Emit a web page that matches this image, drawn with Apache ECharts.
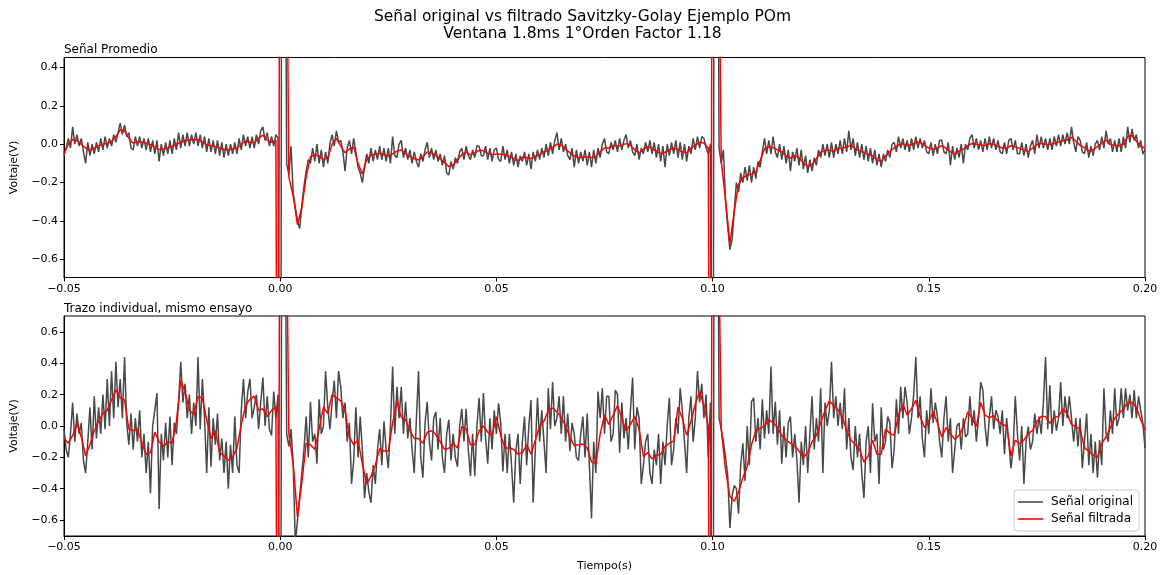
<!DOCTYPE html>
<html>
<head>
<meta charset="utf-8">
<script src="https://cdn.jsdelivr.net/npm/echarts@6/dist/echarts.min.js"></script>
<style>
  html, body { margin: 0; padding: 0; background: #fff; }
  #chart { width: 1165px; height: 575px; }
</style>
</head>
<body>
<div id="chart"></div>
<script>
// Time base (s): raw traces sampled every 0.5 ms, filtered traces every 1 ms, from -0.05 s
const T_START = -0.05;

// Averaged signal, raw samples (V), 0.5 ms apart
const promedioOriginal = [
  -0.06,-0.02, 0.03,-0.02, 0.09,0.0, 0.05,-0.01, 0.03,-0.04,
  -0.10,0.01, -0.06,0.0, -0.05,0.01, -0.04,0.03, -0.03,0.04,
  -0.02,0.03, -0.01,0.05, 0.01,0.06, 0.11,0.05, 0.10,0.04,
  0.06,-0.02, -0.03,0.04, -0.01,0.04, -0.02,0.03, -0.03,0.03,
  -0.04,0.02, -0.05,0.02, -0.09,0.0, -0.06,0.01, -0.05,0.02,
  -0.05,0.03, -0.03,0.06, -0.02,0.05, -0.01,0.06, -0.01,0.05,
  0.0,0.06, -0.01,0.05, -0.02,0.04, -0.04,0.03, -0.04,0.02,
  -0.05,0.02, -0.06,0.01, -0.07,0.0, -0.06,0.0, -0.05,0.01,
  -0.05,0.03, -0.03,0.05, -0.01,0.04, -0.02,0.04, -0.02,0.05,
  0.0,0.07, 0.09,0.02, 0.06,-0.01, 0.04,-0.01, 0.05,0.03,
  -4.0,4.0, 2.0,-0.10, -0.16,-0.01, -0.25,-0.33, -0.40,-0.44,
  -0.32,-0.22, -0.14,-0.08, -0.10,-0.02, -0.09,0.0, -0.10,-0.03,
  -0.12,-0.04, -0.10,0.0, 0.05,-0.01, 0.07,0.01,
  0.02,-0.04, -0.14,-0.02, 0.02,-0.05, 0.03,-0.04, -0.12,-0.15,
  -0.20,-0.12, -0.05,-0.10, -0.02,-0.09, -0.03,-0.08, -0.01,-0.08,
  -0.02,-0.09, -0.02,-0.10, 0.04,-0.06, -0.07,0.0, 0.02,-0.07,
  -0.02,-0.08, -0.03,-0.10, -0.04,-0.09, -0.12,-0.05, -0.09,-0.03,
  0.01,-0.07, -0.02,-0.08, -0.03,-0.09, -0.05,-0.11, -0.06,-0.15,
  -0.16,-0.09, -0.13,-0.07, -0.10,-0.04, -0.02,-0.08, -0.01,-0.06,
  -0.08,-0.03, -0.07,-0.01, -0.01,-0.06, -0.06,-0.01, -0.08,-0.02,
  -0.09,-0.03, -0.02,-0.08, -0.09,-0.01, -0.08,-0.03, -0.10,-0.04,
  -0.11,-0.05, -0.12,-0.06, -0.09,-0.04, -0.11,-0.05, -0.13,-0.04,
  -0.09,-0.03, -0.08,-0.02, -0.07,0.0, -0.06,0.01, -0.05,0.02,
  0.06,-0.03, 0.03,-0.04, 0.0,-0.06, -0.08,-0.02, -0.12,-0.03,
  -0.10,-0.04, -0.09,-0.03, -0.11,-0.04, -0.12,-0.03, -0.10,-0.02,
  -0.07,0.0, 0.03,-0.04,
  -0.05,0.01, -0.03,0.02, -0.04,0.03, -0.03,0.02, 0.05,-0.02,
  0.02,-0.04, -0.06,0.0, -0.08,-0.02, -0.05,0.01, -0.04,0.02,
  -0.05,0.01, -0.07,0.0, -0.09,-0.01, -0.12,0.0, -0.06,0.01,
  -0.05,0.02, -0.07,0.01, -0.08,0.0, -0.09,-0.01, -0.05,0.03,
  -0.03,0.04, -0.02,0.04, 0.03,-0.02, -0.05,0.0, -4.0,4.0,
  2.5,-0.02, -0.10,-0.03, -0.30,-0.43, -0.55,-0.50, -0.35,-0.20,
  -0.25,-0.15, -0.20,-0.12, -0.19,-0.11, -0.20,-0.12, -0.18,-0.09,
  -0.12,-0.04, 0.03,-0.05, 0.02,-0.05, 0.04,-0.04, -0.07,0.0,
  -0.08,-0.01, -0.10,-0.03, -0.14,-0.04, -0.09,-0.02, -0.11,-0.03,
  -0.13,-0.06, -0.15,-0.08, -0.14,-0.07, -0.11,-0.03, -0.07,0.0,
  -0.06,0.0, -0.07,0.01, -0.07,0.0, -0.05,0.02, -0.05,0.03,
  -0.04,0.07, -0.03,0.03, -0.06,0.01, -0.07,0.0, -0.08,-0.01,
  -0.09,-0.02, -0.10,-0.03, -0.11,-0.05,
  -0.12,-0.05, -0.09,-0.03, -0.07,0.0, 0.01,-0.04, 0.04,-0.02,
  0.03,-0.03, 0.02,-0.04, 0.03,-0.03, 0.04,-0.02, 0.03,-0.02,
  0.02,-0.04, -0.05,0.01, -0.06,0.0, -0.05,0.02, 0.02,-0.04,
  -0.05,0.01, -0.11,-0.01, -0.08,-0.02, -0.07,0.0, -0.10,0.0,
  -0.03,0.03, 0.05,-0.02, 0.03,-0.03, 0.02,-0.04, 0.03,-0.03,
  0.04,-0.02, 0.03,-0.03, 0.02,-0.04, -0.05,0.01, -0.05,0.02,
  0.03,-0.03, 0.02,-0.05, -0.05,0.01, -0.06,0.0, -0.07,-0.01,
  0.02,-0.05, 0.05,-0.02, 0.04,-0.02, 0.03,-0.03, 0.03,-0.03,
  0.04,-0.01, 0.05,-0.01, 0.05,0.0, 0.06,0.0, 0.09,0.01,
  -0.04,0.04, 0.02,-0.04, -0.05,0.01, -0.07,-0.01, -0.06,0.0,
  0.02,-0.03, 0.04,-0.02, 0.07,0.0, 0.03,-0.04, 0.02,-0.04,
  0.03,-0.04, 0.04,-0.02, 0.09,0.01, 0.08,0.02, 0.05,-0.02,
  0.02,-0.05, -0.03
];

// Averaged signal after Savitzky-Golay filtering (V), 1 ms apart
const promedioFiltrada = [
  -0.05,0.0,0.025,0.02,0.0,-0.02,-0.033,-0.022,-0.008,0.0,
  0.005,0.015,0.04,0.075,0.07,0.03,0.005,0.012,0.012,0.005,
  -0.003,-0.015,-0.028,-0.025,-0.02,-0.012,0.0,0.01,0.018,0.023,
  0.025,0.023,0.012,-0.003,-0.008,-0.012,-0.02,-0.028,-0.03,-0.024,
  -0.02,0.0,0.017,0.01,0.008,0.03,0.048,0.02,0.01,0.02,
  3,3,-0.17,-0.27,-0.42,-0.33,-0.17,-0.065,-0.056,-0.062,
  -0.08,-0.07,0.0,0.03,
  -0.01,-0.045,-0.025,-0.015,-0.10,-0.155,-0.08,-0.056,-0.052,-0.047,
  -0.054,-0.062,-0.05,-0.036,-0.03,-0.05,-0.065,-0.075,-0.082,-0.066,
  -0.04,-0.047,-0.06,-0.077,-0.095,-0.117,-0.11,-0.08,-0.055,-0.04,
  -0.056,-0.044,-0.032,-0.033,-0.048,-0.055,-0.053,-0.052,-0.055,-0.064,
  -0.077,-0.087,-0.068,-0.07,-0.075,-0.064,-0.053,-0.04,-0.03,-0.016,
  0.0,-0.005,-0.025,-0.045,-0.062,-0.071,-0.068,-0.065,-0.07,-0.065,
  -0.04,-0.02,
  -0.02,-0.007,-0.01,-0.005,0.003,-0.005,-0.03,-0.047,-0.026,-0.013,
  -0.022,-0.036,-0.05,-0.042,-0.03,-0.02,-0.028,-0.038,-0.046,-0.02,
  -0.005,0.01,0.006,-0.02,3,3,-0.09,-0.29,-0.52,-0.35,
  -0.21,-0.175,-0.162,-0.155,-0.145,-0.085,-0.025,-0.012,-0.018,-0.03,
  -0.04,-0.062,-0.072,-0.06,-0.07,-0.097,-0.117,-0.107,-0.075,-0.042,
  -0.032,-0.031,-0.037,-0.021,-0.02,-0.015,-0.005,-0.025,-0.035,-0.043,
  -0.052,-0.06,-0.082,
  -0.088,-0.062,-0.038,-0.02,-0.004,0.002,-0.007,-0.003,0.008,0.01,
  -0.006,-0.02,-0.027,-0.02,-0.007,-0.022,-0.04,-0.052,-0.036,-0.025,
  -0.008,0.004,0.0,-0.004,-0.007,0.002,0.0,-0.012,-0.02,-0.02,
  -0.008,-0.014,-0.022,-0.031,-0.038,-0.02,-0.003,0.005,0.0,-0.001,
  0.004,0.012,0.018,0.022,0.036,0.015,-0.006,-0.018,-0.037,-0.03,
  -0.012,0.005,0.022,-0.003,-0.006,-0.008,0.0,0.04,0.045,0.015,
  -0.012,-0.02
];

// Single trial, raw samples (V), 0.5 ms apart
const individualOriginal = [
  -0.02,-0.15,-0.20,-0.05,0.15,-0.10,0.08,-0.05,0.02,-0.22,
  -0.30,-0.10,0.12,-0.15,0.19,-0.08,0.12,-0.05,0.20,-0.02,
  0.30,0.0,0.35,0.05,0.41,0.12,0.30,0.05,0.44,0.02,
  -0.12,0.08,-0.15,0.05,-0.10,0.10,-0.20,-0.05,-0.30,-0.10,
  -0.43,0.0,0.10,0.21,-0.53,-0.05,-0.22,0.02,-0.20,0.06,
  -0.25,0.02,-0.05,0.15,0.41,0.15,0.27,0.05,0.20,-0.05,
  0.15,0.0,0.44,-0.02,0.30,0.05,-0.30,0.12,-0.26,0.05,
  -0.12,0.08,-0.22,-0.08,-0.30,-0.10,-0.40,-0.12,-0.30,0.06,
  -0.25,-0.30,0.10,0.30,0.05,0.22,0.30,0.05,0.12,0.20,
  -0.02,0.15,0.31,0.0,0.19,-0.02,-0.06,0.22,0.05,0.20,
  -4.0,4.0,2.0,-0.05,-0.13,-0.02,-0.24,-0.75,-0.60,-0.45,
  -0.30,-0.15,0.06,-0.20,0.155,-0.10,-0.05,-0.24,0.17,-0.05,
  0.0,0.35,0.12,-0.02,0.15,0.29,0.05,0.35,
  0.25,0.05,0.15,-0.10,0.02,-0.37,-0.22,0.12,-0.20,0.06,
  -0.15,-0.46,-0.30,-0.42,-0.49,-0.25,-0.37,-0.15,-0.02,-0.25,
  0.03,-0.15,-0.27,0.0,0.38,-0.05,0.25,0.05,0.25,-0.05,
  0.155,-0.08,0.05,-0.15,-0.30,0.05,0.35,-0.20,-0.33,0.02,
  0.155,-0.10,-0.22,0.05,0.09,-0.15,0.05,-0.20,-0.30,-0.05,
  0.04,-0.22,-0.05,-0.20,-0.26,0.0,0.11,-0.10,0.11,-0.15,
  -0.32,-0.05,-0.32,0.0,0.18,-0.10,0.21,-0.08,-0.24,0.05,
  -0.15,0.10,-0.05,0.145,0.02,-0.29,-0.05,-0.30,-0.05,-0.25,
  -0.49,-0.16,-0.05,-0.37,-0.10,0.06,-0.25,0.0,0.166,-0.49,
  -0.15,0.18,-0.10,0.10,-0.10,-0.30,0.24,-0.02,0.28,0.0,
  0.05,0.19,-0.05,0.19,-0.10,0.08,-0.16,0.02,-0.05,-0.20,
  -0.22,-0.05,0.06,-0.20,0.08,-0.25,-0.59,-0.10,-0.30,0.22,
  0.05,0.24,-0.05,0.19,
  0.19,-0.10,-0.05,0.23,0.20,-0.17,0.15,-0.08,0.05,-0.15,
  0.10,0.31,-0.15,0.12,0.05,-0.37,-0.25,-0.10,-0.05,-0.30,
  -0.37,-0.15,-0.25,-0.05,-0.37,-0.10,-0.25,0.0,0.18,-0.25,
  -0.15,0.05,-0.05,0.24,0.10,-0.10,-0.30,0.05,0.19,-0.10,
  0.05,0.35,0.15,0.27,0.05,0.20,-0.20,0.15,
  -4.0,4.0,2.5,0.05,-0.02,-0.10,-0.20,-0.32,-0.65,-0.45,
  -0.38,-0.40,-0.56,-0.25,-0.11,-0.35,0.0,-0.25,0.155,0.18,
  -0.10,0.05,-0.15,0.17,-0.08,0.10,-0.05,0.38,-0.05,0.155,
  -0.12,0.10,-0.24,0.0,-0.20,0.02,0.06,-0.20,-0.05,-0.22,
  -0.49,-0.10,-0.25,0.0,-0.30,-0.05,0.19,-0.15,0.05,-0.10,
  0.24,-0.30,0.15,0.0,0.10,0.41,0.05,0.19,0.0,0.15,
  -0.02,0.24,-0.15,0.05,-0.20,-0.28,0.0,-0.20,-0.05,-0.30,
  -0.46,-0.10,0.0,-0.30,0.145,-0.10,-0.05,-0.37,
  0.12,-0.15,-0.10,0.06,0.02,-0.27,-0.15,0.17,-0.05,0.25,
  0.05,0.25,0.15,-0.05,0.05,0.20,0.44,0.05,0.19,-0.08,
  -0.20,0.10,-0.05,0.24,0.02,0.15,0.06,-0.10,-0.20,0.05,
  0.19,-0.10,0.05,-0.30,-0.15,0.0,0.02,-0.15,0.05,-0.07,
  -0.05,0.19,0.0,0.10,-0.10,0.05,0.28,0.23,0.0,-0.13,
  0.05,0.19,-0.02,0.10,0.06,-0.05,0.10,-0.18,0.05,-0.10,
  -0.27,-0.15,0.19,-0.05,-0.22,0.0,-0.37,-0.10,-0.004,-0.15,
  -0.10,0.08,-0.05,0.06,-0.05,0.15,0.44,-0.02,0.26,-0.05,
  0.10,-0.03,0.05,0.28,0.0,0.19,0.05,0.19,0.05,-0.10,
  0.05,-0.13,0.05,-0.27,-0.10,0.08,-0.25,-0.05,-0.30,-0.10,
  -0.33,-0.09,-0.25,0.24,-0.05,-0.10,0.10,-0.05,0.24,0.0,
  0.05,0.24,0.05,0.24,0.10,0.20,0.05,0.23,0.05,0.19,
  0.10,0.02,-0.14
];

// Single trial after Savitzky-Golay filtering (V), 1 ms apart
const individualFiltrada = [
  -0.08,-0.11,-0.06,0.017,-0.07,-0.19,-0.12,-0.03,0.03,0.08,
  0.10,0.166,0.23,0.18,0.166,-0.02,-0.03,-0.02,-0.11,-0.18,
  -0.17,-0.04,-0.10,-0.13,-0.10,-0.11,0.03,0.29,0.22,0.10,
  0.075,0.187,0.18,0.038,-0.08,-0.03,-0.17,-0.19,-0.22,-0.20,
  -0.14,0.01,0.13,0.17,0.19,0.10,0.11,0.06,0.10,0.12,
  3,3,-0.05,-0.24,-0.58,-0.36,-0.11,-0.12,-0.15,-0.02,
  0.12,0.08,0.2,0.18,
  0.16,0.10,-0.07,-0.12,-0.09,-0.24,-0.37,-0.32,-0.25,-0.145,
  -0.16,-0.16,0.02,0.16,0.055,0.04,-0.03,-0.08,-0.08,-0.11,
  -0.04,-0.03,-0.055,-0.10,-0.15,-0.142,-0.11,-0.14,-0.004,-0.02,
  -0.12,-0.12,-0.03,0.0,-0.04,-0.06,0.06,-0.06,-0.14,-0.14,
  -0.15,-0.18,-0.17,-0.12,-0.18,-0.09,0.0,0.03,0.10,0.115,
  0.09,0.055,0.0,-0.07,-0.125,-0.12,-0.115,-0.14,-0.23,-0.24,
  -0.05,0.07,
  0.01,0.07,0.13,0.05,-0.03,0.01,0.06,-0.02,-0.195,-0.17,
  -0.21,-0.185,-0.18,-0.13,-0.11,-0.095,0.12,0.05,-0.06,0.03,
  0.14,0.22,0.13,0.0,3,3,-0.02,-0.28,-0.45,-0.48,
  -0.42,-0.33,-0.26,-0.12,-0.03,-0.015,0.0,0.04,0.02,-0.01,
  -0.06,-0.09,-0.11,-0.13,-0.16,-0.2,-0.17,-0.1,-0.06,0.02,
  0.1,0.16,0.13,0.105,0.06,-0.03,-0.09,-0.12,-0.15,-0.23,
  -0.19,-0.09,-0.18,
  -0.18,-0.02,-0.047,-0.06,0.07,0.14,0.07,0.11,0.165,0.06,
  -0.01,0.03,0.09,0.02,-0.07,-0.01,-0.05,-0.085,-0.06,-0.004,
  0.09,0.05,-0.004,0.15,0.07,0.053,0.065,0.03,0.01,0.0,
  -0.19,-0.09,-0.115,-0.09,-0.047,-0.03,0.03,0.06,0.06,0.017,
  0.055,0.06,0.11,0.08,0.01,-0.006,-0.02,-0.14,-0.16,-0.185,
  -0.2,-0.11,-0.07,-0.01,0.05,0.08,0.11,0.148,0.15,0.12,
  0.04,-0.025
];

// Stimulus artefact samples of the filtered traces between the 1 ms points [t (s), V]
const artefactoPromedio = [[-0.0005, -3], [0.0015, 1.2], [0.0995, -3], [0.1015, 1.0]];
const artefactoIndividual = [[-0.0005, -3], [0.0015, 1.2], [0.0995, -3], [0.1015, 1.0]];

// Axis ticks
const yTicksPromedio = [-0.6, -0.4, -0.2, 0.0, 0.2, 0.4];
const yTicksIndividual = [-0.6, -0.4, -0.2, 0.0, 0.2, 0.4, 0.6];

// Build [time, value] pairs
function rawPairs(values) {
  // 0.5 ms step, computed in tenths of a millisecond to avoid drift
  return values.map((v, i) => [(T_START * 10000 + i * 5) / 10000, v]);
}
function filtPairs(values, extra) {
  const pts = values.map((v, i) => [(T_START * 1000 + i) / 1000, v]);
  return pts.concat(extra).sort((a, b) => a[0] - b[0]);
}

const FONT = 'DejaVu Sans';
const minus = s => String(s).replace('-', '\u2212');
const GRAY = '#484848';
const RED = '#ff0000';

const chart = echarts.init(document.getElementById('chart'), null, { renderer: 'canvas' });

function xAxisDef(gridIndex, withName) {
  return {
    type: 'value', gridIndex, min: -0.05, max: 0.2, interval: 0.05,
    name: withName ? 'Tiempo(s)' : '', nameLocation: 'middle', nameGap: 25,
    nameTextStyle: { fontFamily: FONT, fontSize: 11, color: '#000' },
    axisLine: { show: true, onZero: false, lineStyle: { color: '#000', width: 1 } },
    axisTick: { show: true, length: 4, lineStyle: { color: '#000' } },
    axisLabel: { fontFamily: FONT, fontSize: 11, color: '#000', margin: 6,
      formatter: v => minus(v.toFixed(2)) },
    splitLine: { show: false }
  };
}
function yAxisDef(gridIndex, min, max, ticks) {
  return {
    type: 'value', gridIndex, min, max,
    name: 'Voltaje(V)', nameLocation: 'middle', nameGap: 44, nameRotate: 90,
    nameTextStyle: { fontFamily: FONT, fontSize: 11, color: '#000' },
    axisLine: { show: true, onZero: false, lineStyle: { color: '#000', width: 1 } },
    axisTick: { show: true, length: 4, customValues: ticks, lineStyle: { color: '#000' } },
    axisLabel: { fontFamily: FONT, fontSize: 11, color: '#000', margin: 6,
      customValues: ticks, formatter: v => minus(v.toFixed(1)) },
    splitLine: { show: false }
  };
}
function lineSeries(name, color, axisIndex, data, z) {
  return {
    name, type: 'line', xAxisIndex: axisIndex, yAxisIndex: axisIndex,
    data, symbol: 'none', clip: true, z,
    lineStyle: { color, width: 1.5 }, itemStyle: { color },
    emphasis: { disabled: true }
  };
}

chart.setOption({
  animation: false,
  backgroundColor: '#fff',
  textStyle: { fontFamily: FONT },
  title: [
    { text: 'Señal original vs filtrado Savitzky-Golay Ejemplo POm\nVentana 1.8ms 1°Orden Factor 1.18',
      left: 'center', top: 4,
      textStyle: { fontFamily: FONT, fontSize: 15.5, fontWeight: 'normal', color: '#000', lineHeight: 16.5 } },
    { text: 'Señal Promedio', left: 64, top: 44, padding: 0,
      textStyle: { fontFamily: FONT, fontSize: 12, fontWeight: 'normal', color: '#000' } },
    { text: 'Trazo individual, mismo ensayo', left: 64, top: 303, padding: 0,
      textStyle: { fontFamily: FONT, fontSize: 12, fontWeight: 'normal', color: '#000' } }
  ],
  legend: {
    orient: 'vertical', right: 26, top: 490,
    data: ['Señal original', 'Señal filtrada'],
    icon: 'rect', itemWidth: 25, itemHeight: 1.6, itemGap: 5,
    padding: [6, 6, 6, 4],
    borderColor: '#cccccc', borderWidth: 1, borderRadius: 3,
    backgroundColor: 'rgba(255,255,255,0.8)',
    textStyle: { fontFamily: FONT, fontSize: 12, color: '#000', padding: [0, 0, 0, 3] },
    selectedMode: false
  },
  grid: [
    { left: 64, top: 57.5, width: 1081, height: 220, show: true, borderColor: '#000', borderWidth: 1 },
    { left: 64, top: 316, width: 1081, height: 220, show: true, borderColor: '#000', borderWidth: 1 }
  ],
  xAxis: [xAxisDef(0, false), xAxisDef(1, true)],
  yAxis: [
    yAxisDef(0, -0.695, 0.452, yTicksPromedio),
    yAxisDef(1, -0.702, 0.702, yTicksIndividual)
  ],
  series: [
    lineSeries('Señal original', GRAY, 0, rawPairs(promedioOriginal), 2),
    lineSeries('Señal filtrada', RED, 0, filtPairs(promedioFiltrada, artefactoPromedio), 3),
    lineSeries('Señal original', GRAY, 1, rawPairs(individualOriginal), 2),
    lineSeries('Señal filtrada', RED, 1, filtPairs(individualFiltrada, artefactoIndividual), 3)
  ]
});
</script>
</body>
</html>
